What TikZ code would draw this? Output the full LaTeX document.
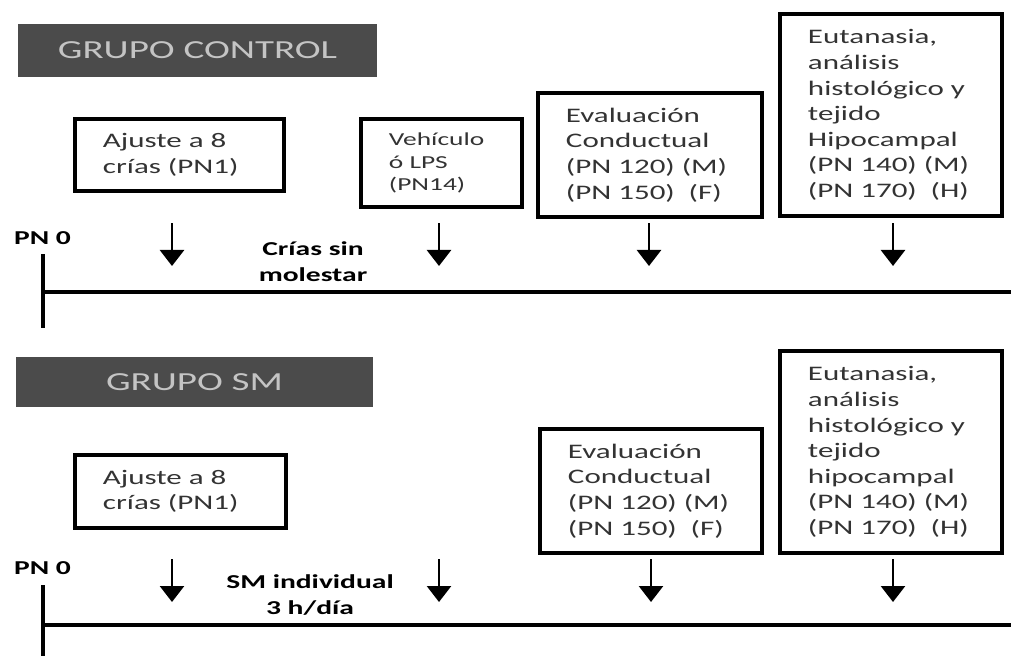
\documentclass[tikz,border=0pt]{standalone}
\usepackage{fontspec}
\setmainfont{Carlito}[FakeStretch=1.5]
\usepackage{tikz}
\usetikzlibrary{arrows.meta, positioning, calc}
\definecolor{grisoscuro}{HTML}{4B4B4B}
\definecolor{grisclaro}{HTML}{C4C4C4}
\definecolor{textocaja}{HTML}{333333}
\tikzstyle{caja} = [
    rectangle,
    draw = black,
    line width = 2.2pt,
    align = left,
    inner xsep = 0.7cm,
    inner ysep = 0pt,
    text = textocaja,
    font = \fontsize{14.7}{18.2}\selectfont,
]
\tikzstyle{titulo} = [
    rectangle,
    fill = grisoscuro,
    text = grisclaro,
    inner sep = 0pt,
    font = \fontsize{18.5}{22}\selectfont,
]
\tikzstyle{etiqueta} = [
    align = center,
    inner sep = 0pt,
    font = \bfseries\fontsize{14}{18.5}\selectfont,
]
\tikzstyle{flecha} = [-{Triangle[width=0.6cm, length=0.4cm]}, line width = 1.9pt]
\tikzstyle{eje} = [line width = 2.6pt]
\begin{document}
\begin{tikzpicture} [x = 0.025cm, y = -0.025cm]
    \useasboundingbox (0,0) rectangle (1011,656);

    % grupo control
    \node (grupoC) [titulo, minimum width = 8.975cm, minimum height = 1.325cm] at (197.5,50.5) {GRUPO CONTROL};
    \node (ajusteC) [caja, text width = 3.825cm, minimum height = 1.8cm] at (179.5,155) {Ajuste a 8\\crías (PN1)};
    \node (vehiculoC) [caja, text width = 2.625cm, minimum height = 2.2cm, font = \fontsize{13}{16}\selectfont] at (441.5,163) {Vehículo\\ó LPS\\(PN14)};
    \node (evalC) [caja, text width = 4.2cm, minimum height = 3.1cm] at (650,155) {Evaluación\\Conductual\\(PN 120) (M)\\(PN 150)\ \ (F)};
    \node (eutaC) [caja, text width = 4.15cm, minimum height = 5.05cm] at (891,115) {Eutanasia,\\análisis\\histológico y\\tejido\\Hipocampal\\(PN 140) (M)\\(PN 170)\ \ (H)};

    \node (pn0C) [etiqueta] at (42.5,238) {PN 0};
    \node (criasC) [etiqueta] at (313,262) {Crías sin\\molestar};

    \coordinate (ejeCa) at (43,254);
    \coordinate (ejeCb) at (43,328);
    \coordinate (ejeCc) at (43,292);
    \coordinate (ejeCd) at (1011,292);
    \draw[eje, line width = 3pt] (ejeCa) -- (ejeCb);
    \draw[eje] (ejeCc) -- (ejeCd);

    \foreach \x [count = \i] in {172, 439, 649, 893} {
        \coordinate (flechaCa\i) at (\x,223);
        \coordinate (flechaCb\i) at (\x,266);
        \draw[flecha] (flechaCa\i) -- (flechaCb\i);
    }

    % grupo SM
    \node (grupoS) [titulo, minimum width = 8.925cm, minimum height = 1.25cm] at (194.5,382) {GRUPO SM};
    \node (ajusteS) [caja, text width = 3.875cm, minimum height = 1.825cm] at (180.5,491.5) {Ajuste a 8\\crías (PN1)};
    \node (evalS) [caja, text width = 4.15cm, minimum height = 3.1cm] at (651,491) {Evaluación\\Conductual\\(PN 120) (M)\\(PN 150)\ \ (F)};
    \node (eutaS) [caja, text width = 4.15cm, minimum height = 5.05cm] at (891,452) {Eutanasia,\\análisis\\histológico y\\tejido\\hipocampal\\(PN 140) (M)\\(PN 170)\ \ (H)};

    \node (pn0S) [etiqueta] at (42.5,568) {PN 0};
    \node (smS) [etiqueta] at (310,595.5) {SM individual\\3 h/día};

    \coordinate (ejeSa) at (43,585);
    \coordinate (ejeSb) at (43,656);
    \coordinate (ejeSc) at (43,625);
    \coordinate (ejeSd) at (1011,625);
    \draw[eje, line width = 3pt] (ejeSa) -- (ejeSb);
    \draw[eje] (ejeSc) -- (ejeSd);

    \foreach \x [count = \i] in {172, 439, 651, 893} {
        \coordinate (flechaSa\i) at (\x,559);
        \coordinate (flechaSb\i) at (\x,602);
        \draw[flecha] (flechaSa\i) -- (flechaSb\i);
    }
\end{tikzpicture}
\end{document}
